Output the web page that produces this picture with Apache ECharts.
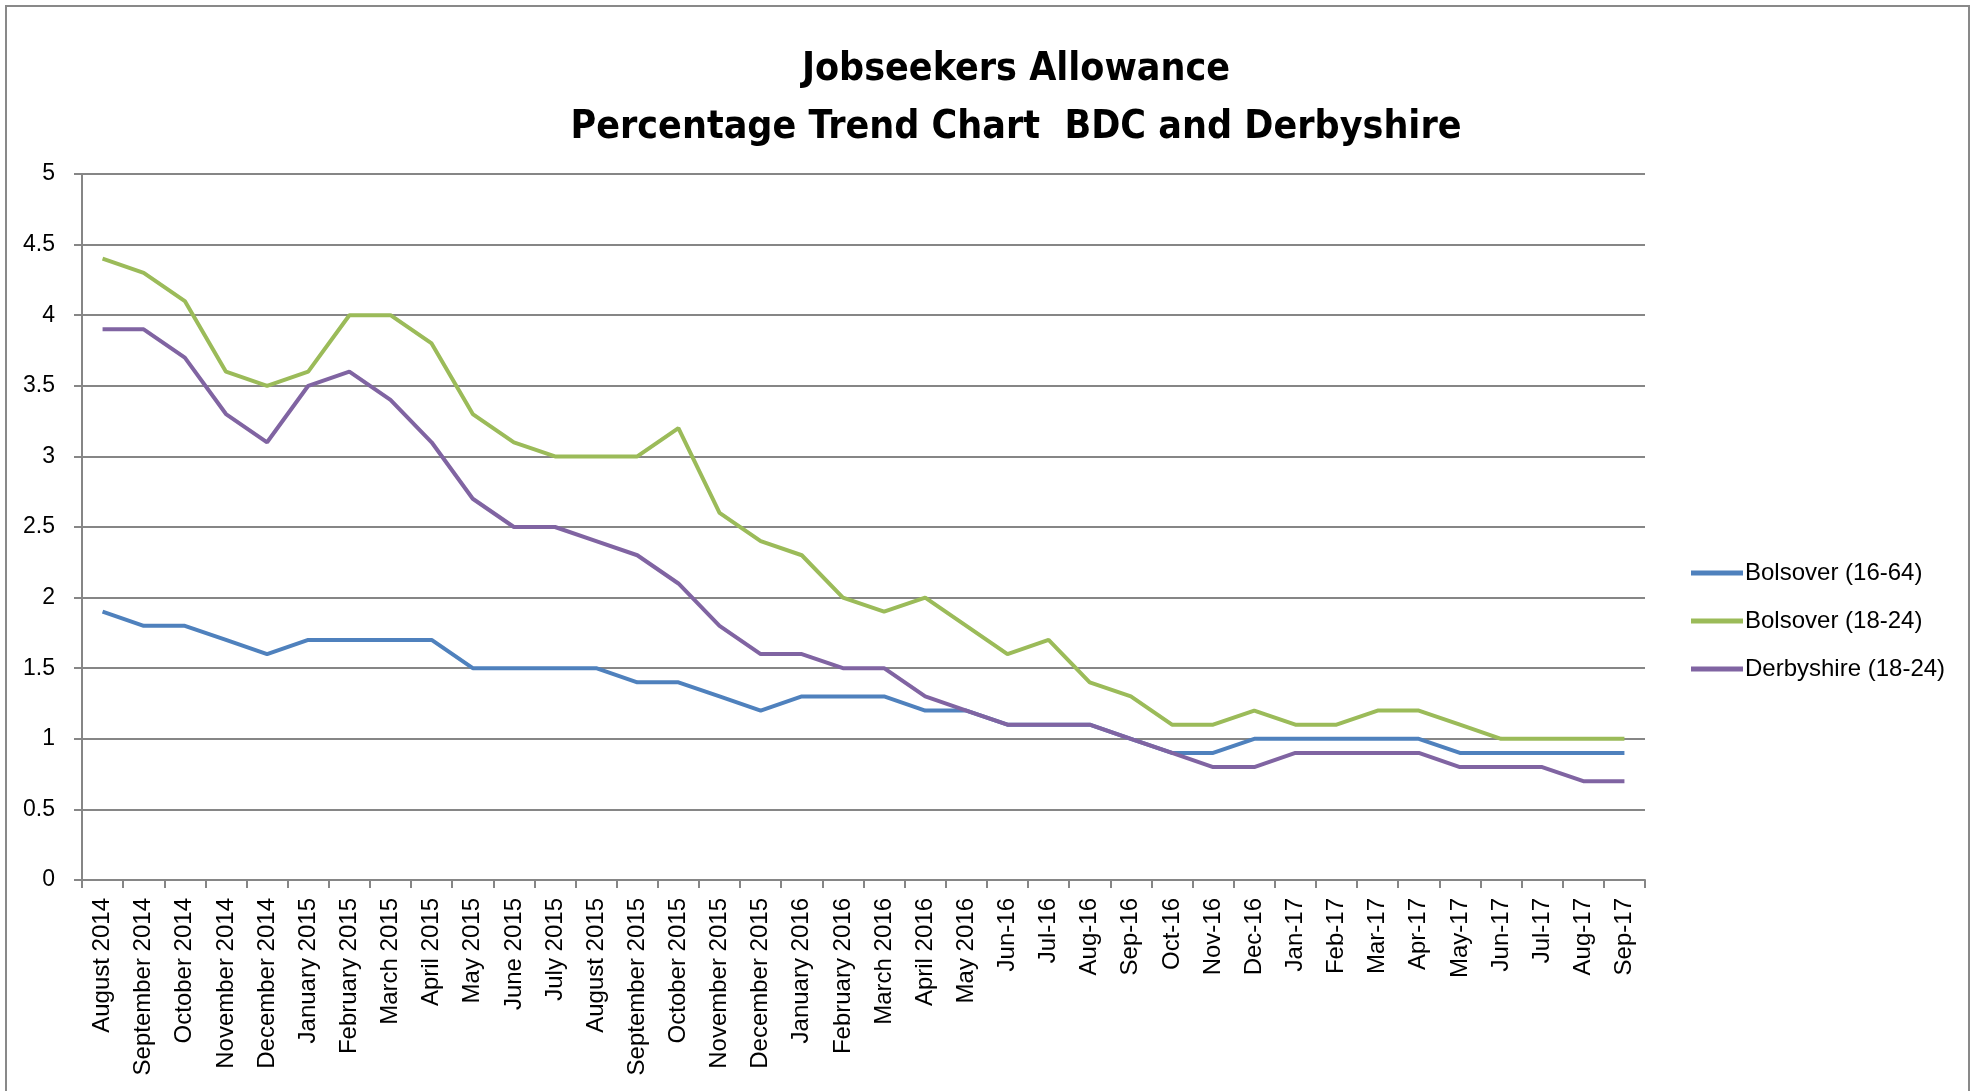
<!DOCTYPE html>
<html><head><meta charset="utf-8">
<script src="https://cdn.jsdelivr.net/npm/echarts@6/dist/echarts.min.js"></script>
<style>html,body{margin:0;padding:0;background:#fff}#c{width:1977px;height:1091px}
#frame{position:absolute;left:5px;top:5px;width:1961px;height:1100px;border:2px solid #898989;pointer-events:none}</style>
</head><body><div id="c"></div><div id="frame"></div>
<script>
const categories = ["August 2014","September 2014","October 2014","November 2014","December 2014","January 2015","February 2015","March 2015","April 2015","May 2015","June 2015","July 2015","August 2015","September 2015","October 2015","November 2015","December 2015","January 2016","February 2016","March 2016","April 2016","May 2016","Jun-16","Jul-16","Aug-16","Sep-16","Oct-16","Nov-16","Dec-16","Jan-17","Feb-17","Mar-17","Apr-17","May-17","Jun-17","Jul-17","Aug-17","Sep-17"];
const bolsover1664 = [1.9,1.8,1.8,1.7,1.6,1.7,1.7,1.7,1.7,1.5,1.5,1.5,1.5,1.4,1.4,1.3,1.2,1.3,1.3,1.3,1.2,1.2,1.1,1.1,1.1,1.0,0.9,0.9,1.0,1.0,1.0,1.0,1.0,0.9,0.9,0.9,0.9,0.9];
const bolsover1824 = [4.4,4.3,4.1,3.6,3.5,3.6,4.0,4.0,3.8,3.3,3.1,3.0,3.0,3.0,3.2,2.6,2.4,2.3,2.0,1.9,2.0,1.8,1.6,1.7,1.4,1.3,1.1,1.1,1.2,1.1,1.1,1.2,1.2,1.1,1.0,1.0,1.0,1.0];
const derbyshire1824 = [3.9,3.9,3.7,3.3,3.1,3.5,3.6,3.4,3.1,2.7,2.5,2.5,2.4,2.3,2.1,1.8,1.6,1.6,1.5,1.5,1.3,1.2,1.1,1.1,1.1,1.0,0.9,0.8,0.8,0.9,0.9,0.9,0.9,0.8,0.8,0.8,0.7,0.7];
const yTicks = [0,0.5,1,1.5,2,2.5,3,3.5,4,4.5,5];
const seriesNames = ["Bolsover (16-64)","Bolsover (18-24)","Derbyshire (18-24)"];
const colors = ["#4F81BD","#9BBB59","#8064A2"];

const chart = echarts.init(document.getElementById('c'));
const font = "'Liberation Sans', Arial, sans-serif";
const mk = (name, data, color) => ({
  name, type:'line', data, symbol:'none', smooth:false,
  lineStyle:{color, width:4}, itemStyle:{color}
});
chart.setOption({
  animation:false,
  color: colors,
  title:{
    text:"Jobseekers Allowance\nPercentage Trend Chart  BDC and Derbyshire",
    left:1011, top:36, textAlign:'center',
    textStyle:{fontFamily:"'Liberation Sans Narrow','DejaVu Sans Condensed',sans-serif", fontWeight:'bold', fontSize:39, lineHeight:58, color:'#000'}
  },
  legend:{
    orient:'vertical', left:1686, top:556, itemWidth:52, itemHeight:5, itemGap:24,
    icon:'rect',
    textStyle:{fontFamily:font, fontSize:24, color:'#000', padding:[0,0,0,-3]},
    data: seriesNames
  },
  grid:{left:82, right:332, top:174, bottom:211, containLabel:false},
  xAxis:{
    type:'category', data:categories, boundaryGap:true,
    axisLine:{lineStyle:{color:'#868686', width:2}},
    axisTick:{show:true, length:8, alignWithLabel:false, lineStyle:{color:'#868686', width:2}},
    axisLabel:{rotate:90, interval:0, fontFamily:font, fontSize:24, color:'#000', margin:18}
  },
  yAxis:{
    type:'value', min:yTicks[0], max:yTicks[yTicks.length-1], interval:0.5,
    axisLine:{show:true, lineStyle:{color:'#868686', width:2}},
    axisTick:{show:true, length:8, lineStyle:{color:'#868686', width:2}},
    splitLine:{lineStyle:{color:'#868686', width:2}},
    axisLabel:{fontFamily:font, fontSize:23, color:'#000', margin:27}
  },
  series:[mk(seriesNames[0], bolsover1664, colors[0]), mk(seriesNames[1], bolsover1824, colors[1]), mk(seriesNames[2], derbyshire1824, colors[2])]
});
</script></body></html>
